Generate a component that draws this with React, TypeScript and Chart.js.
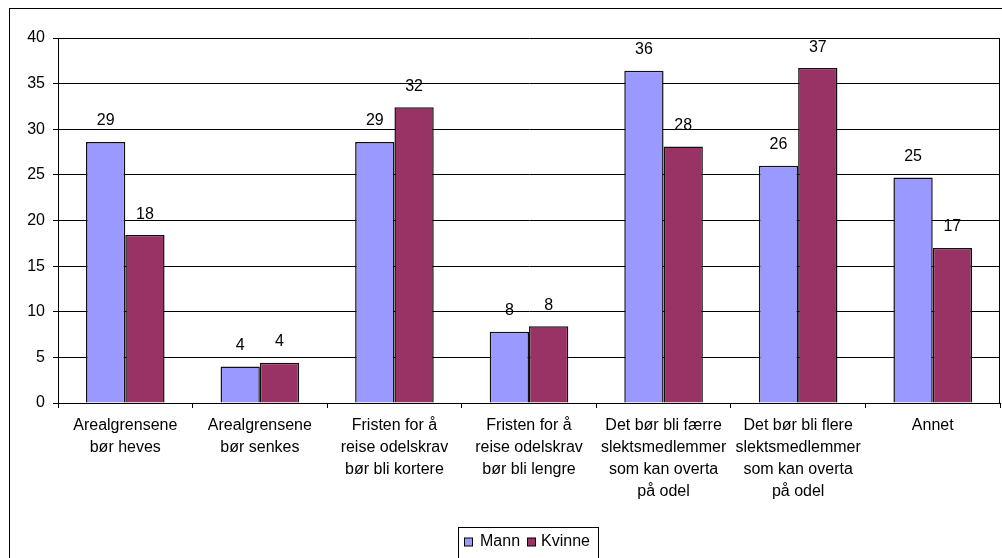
import React, { useEffect, useRef } from "react";
import { Chart, registerables } from "chart.js";

Chart.register(...registerables);

const categories: string[][] = [
  ["Arealgrensene", "bør heves"],
  ["Arealgrensene", "bør senkes"],
  ["Fristen for å", "reise odelskrav", "bør bli kortere"],
  ["Fristen for å", "reise odelskrav", "bør bli lengre"],
  ["Det bør bli færre", "slektsmedlemmer", "som kan overta", "på odel"],
  ["Det bør bli flere", "slektsmedlemmer", "som kan overta", "på odel"],
  ["Annet"],
];
const mann: number[] = [28.6, 4.0, 28.6, 7.8, 36.4, 26.0, 24.7];
const kvinne: number[] = [18.4, 4.4, 32.4, 8.4, 28.1, 36.7, 17.0];
const seriesNames: string[] = ["Mann", "Kvinne"];
const seriesColors: string[] = ["#9999FF", "#993366"];

const FONT = "'Liberation Sans', Arial, sans-serif";
const FS = 16;

const framePlugin = {
  id: "frame",
  beforeDraw(chart: any) {
    const ctx = chart.ctx;
    ctx.save();
    ctx.fillStyle = "#ffffff";
    ctx.fillRect(0, 0, chart.width, chart.height);
    ctx.strokeStyle = "#000000";
    ctx.lineWidth = 1;
    ctx.strokeRect(9.5, 8.5, 1100, 700);
    ctx.restore();
  },
  afterDraw(chart: any) {
    const ctx = chart.ctx;
    const a = chart.chartArea;
    ctx.save();
    ctx.strokeStyle = "#000000";
    ctx.lineWidth = 1;
    ctx.beginPath();
    ctx.moveTo(Math.round(a.right) - 0.5, a.top);
    ctx.lineTo(Math.round(a.right) - 0.5, a.bottom);
    ctx.stroke();

    // legend
    const bx = 458.5, by = 527.5, bw = 140;
    ctx.strokeRect(bx, by, bw, 100);
    ctx.font = FS + "px " + FONT;
    ctx.textBaseline = "middle";
    ctx.textAlign = "left";
    const cy = 542;
    const items = [
      { x: 464.5, tx: 480 },
      { x: 527.5, tx: 541 },
    ];
    items.forEach((it, i) => {
      ctx.fillStyle = seriesColors[i];
      ctx.fillRect(it.x, cy - 4, 8, 8);
      ctx.strokeStyle = "#000";
      ctx.strokeRect(it.x, cy - 4, 8, 8);
      ctx.fillStyle = "#000";
      ctx.fillText(seriesNames[i], it.tx, cy);
    });
    ctx.restore();
  },
  afterDatasetsDraw(chart: any) {
    const ctx = chart.ctx;
    ctx.save();
    ctx.font = FS + "px " + FONT;
    ctx.fillStyle = "#000";
    ctx.textAlign = "center";
    ctx.textBaseline = "middle";
    chart.data.datasets.forEach((ds: any, di: number) => {
      const meta = chart.getDatasetMeta(di);
      meta.data.forEach((el: any, i: number) => {
        ctx.fillText(String(Math.round(ds.data[i])), el.x, el.y - 21);
      });
    });
    ctx.restore();
  },
};

export default function App() {
  const ref = useRef<HTMLCanvasElement | null>(null);
  useEffect(() => {
    if (!ref.current) return;
    const chart = new Chart(ref.current, {
      type: "bar",
      data: {
        labels: categories,
        datasets: [
          {
            label: seriesNames[0],
            data: mann,
            backgroundColor: seriesColors[0],
            borderColor: "#111",
            borderWidth: 1.5,
          },
          {
            label: seriesNames[1],
            data: kvinne,
            backgroundColor: seriesColors[1],
            borderColor: "#111",
            borderWidth: 1.5,
          },
        ],
      },
      options: {
        animation: false,
        responsive: false,
        maintainAspectRatio: false,
        layout: { padding: { left: 0, top: 38, right: 2, bottom: 0 } },
        plugins: { legend: { display: false }, tooltip: { enabled: false } },
        datasets: { bar: { categoryPercentage: 0.584, barPercentage: 1 } },
        scales: {
          x: {
            offset: true,
            grid: {
              offset: true,
              drawOnChartArea: false,
              drawTicks: true,
              tickLength: 5,
              tickColor: "#000",
              color: "#000",
            },
            border: { color: "#000", width: 1 },
            ticks: {
              autoSkip: false,
              maxRotation: 0,
              minRotation: 0,
              padding: 7,
              color: "#000",
              font: { family: FONT, size: FS, lineHeight: 22 / FS },
            },
            afterFit(scale: any) {
              scale.height = 155;
            },
          },
          y: {
            min: 0,
            max: 40,
            ticks: {
              stepSize: 5,
              padding: 8,
              color: "#000",
              font: { family: FONT, size: FS },
            },
            grid: {
              color: "#000",
              lineWidth: 1,
              drawTicks: true,
              tickLength: 5,
              tickColor: "#000",
            },
            border: { color: "#000", width: 1 },
            afterFit(scale: any) {
              scale.width = 58;
            },
          },
        },
      },
      plugins: [framePlugin],
    });
    return () => chart.destroy();
  }, []);
  return (
    <div style={{ position: "absolute", left: 0, top: 0, width: 1002, height: 558 }}>
      <canvas ref={ref} width={1002} height={558} style={{ display: "block" }} />
    </div>
  );
}
